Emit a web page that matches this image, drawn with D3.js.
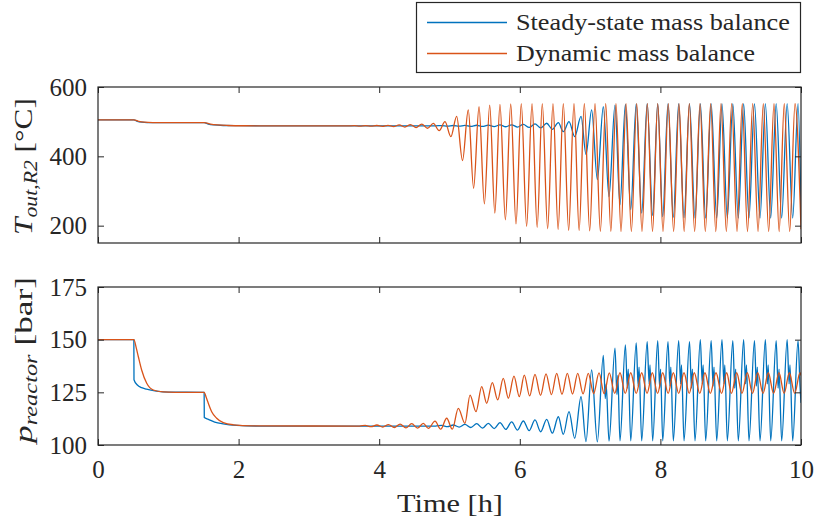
<!DOCTYPE html>
<html>
<head>
<meta charset="utf-8">
<script src="https://cdn.jsdelivr.net/npm/d3@7"></script>
<style>
  body { margin: 0; background: #fff; }
</style>
</head>
<body>
<script>
// values: [time in h, value]
var seriesNames = ["Steady-state mass balance", "Dynamic mass balance"];
var seriesColors = ["#0072BD", "#D95319"];
var xTicks = [0, 2, 4, 6, 8, 10];
var tempTicks = [200, 400, 600];
var pressTicks = [100, 125, 150, 175];

var blueTemp = [
  [0,505],[0.51,505],[0.56,501],[0.62,498.5],[0.7,497.3],[0.85,497],[1.51,497],[1.57,493],[1.65,490.5],
  [1.78,489],[2.0,488.5],[2.5,488],[4.8,488],
  [4.888,488.8],[4.971,487.2],[5.054,489],[5.137,487],[5.220,489.3],[5.303,486.5],[5.386,489.6],[5.469,486.2],
  [5.552,490],[5.635,485.8],[5.718,490.5],[5.801,485.3],[5.884,491],[5.967,484.5],[6.050,492],[6.133,483.5],
  [6.216,493.5],[6.297,482],[6.382,495.5],[6.463,478],[6.548,497],[6.619,471],[6.700,500],[6.781,457],
  [6.871,515],[6.942,405],[7.022,534],[7.103,333],[7.188,543],[7.269,284],[7.354,548],[7.425,260],
  [7.502,550],[7.578,246],[7.656,551],[7.734,236],[7.812,552],[7.890,229],[7.962,552],[8.033,226],
  [8.108,552],[8.184,224],[8.260,552],[8.336,223],[8.414,552],[8.492,222],[8.568,552],[8.644,222],
  [8.722,552],[8.801,222],[8.876,552],[8.952,222],[9.030,552],[9.108,222],[9.184,552],[9.260,222],
  [9.338,552],[9.417,222],[9.493,552],[9.569,222],[9.647,552],[9.725,222],[9.803,552],[9.882,222],
  [9.958,552],[10,240]
];

var orangeTemp = [
  [0,505],[0.51,505],[0.58,501],[0.66,498.5],[0.78,497.2],[1.0,497],[1.51,497],[1.6,493],[1.7,490.5],
  [1.85,489],[2.1,488.2],[2.6,487.8],[3.55,487.8],
  [3.645,488.3],[3.725,487.3],[3.805,488.6],[3.885,487.0],[3.965,489],[4.045,486.5],[4.125,489.5],[4.205,485.8],
  [4.285,490.5],[4.365,484.5],[4.445,491.5],[4.525,483],[4.605,493],[4.687,481],[4.770,495],[4.853,474],
  [4.936,500],[5.019,457],[5.102,515],[5.185,388],[5.267,534],[5.343,308],[5.420,543],[5.496,263],
  [5.572,548],[5.645,236],[5.718,550],[5.795,217],[5.871,551],[5.946,205],[6.021,552],[6.097,198],
  [6.174,552],[6.247,195],[6.320,552],[6.396,191],[6.472,552],[6.545,189],[6.619,552],[6.695,187],
  [6.771,552],[6.844,186],[6.918,552],[6.994,185],[7.070,552],[7.146,184],[7.222,552],[7.295,184],
  [7.368,552],[7.440,183],[7.511,552],[7.587,183],[7.663,552],[7.738,183],[7.814,552],[7.888,183],
  [7.962,552],[8.037,183],[8.112,552],[8.188,183],[8.265,552],[8.338,183],[8.411,552],[8.487,183],
  [8.563,552],[8.639,183],[8.715,552],[8.788,183],[8.862,552],[8.938,183],[9.014,552],[9.090,183],
  [9.165,552],[9.239,183],[9.313,552],[9.389,183],[9.464,552],[9.540,183],[9.616,552],[9.689,183],
  [9.762,552],[9.839,183],[9.915,552],[10,190]
];

var bluePress = [
  [0,150],[0.51,150],[0.512,131],[0.56,128.5],[0.62,127.2],[0.69,126.5],[0.83,125.6],[1.0,125.1],[1.51,125],
  [1.512,113],[1.57,112.2],[1.66,110.9],[1.78,110],[1.97,109.3],[2.3,109],[4.8,109],
  [4.888,109.3],[4.971,108.7],[5.054,109.5],[5.137,108.5],[5.220,109.8],[5.303,108.3],[5.386,110.1],[5.469,108.0],
  [5.552,110.3],[5.635,107.8],[5.718,110.6],[5.801,107.4],[5.884,111.0],[5.967,107.1],[6.050,111.4],[6.133,106.8],
  [6.216,111.9],[6.297,106.3],[6.382,112.2],[6.463,105.6],[6.548,113.4],[6.619,105.1],[6.700,115.8],[6.781,103.2],
  [6.871,122.9],[6.942,101.6],[7.022,135.6],[7.103,101.5],
  [7.188,142.5],[7.216,122],[7.228,129],[7.269,101.8],
  [7.354,146],[7.382,124],[7.394,133],[7.425,102],
  [7.502,147.5],[7.530,127],[7.542,136],[7.578,102],
  [7.656,148.5],[7.684,128],[7.696,137],[7.734,102],
  [7.812,149],[7.840,129],[7.852,138],[7.890,102],
  [7.962,149.5],[7.990,127],[8.002,136],[8.033,102],
  [8.108,149],[8.136,128],[8.148,137],[8.184,102],
  [8.260,149.5],[8.288,129],[8.300,138],[8.336,102],
  [8.414,149],[8.442,127],[8.454,136],[8.492,102],
  [8.568,150],[8.596,129],[8.608,138],[8.644,102],
  [8.722,149.5],[8.750,128],[8.762,137],[8.801,102],
  [8.876,150],[8.904,129],[8.916,138],[8.952,102],
  [9.030,149.5],[9.058,127],[9.070,136],[9.108,102],
  [9.184,150],[9.212,129],[9.224,138],[9.260,102],
  [9.338,149.5],[9.366,128],[9.378,137],[9.417,102],
  [9.493,150],[9.521,129],[9.533,138],[9.569,102],
  [9.647,149.5],[9.675,127],[9.687,136],[9.725,102],
  [9.803,150],[9.831,129],[9.843,138],[9.882,102],
  [9.958,149.5],[9.986,128],[10,120]
];

var orangePress = [
  [0,150],[0.51,150],[0.545,146],[0.574,141.9],[0.621,135.6],[0.693,129.3],[0.787,126.1],[0.929,125.2],[1.1,125],
  [1.51,125],[1.54,122.5],[1.569,119.8],[1.617,115.8],[1.688,112.7],[1.782,110.6],[1.925,109.6],[2.2,109.1],[3.72,109],
  [3.802,109.3],[3.885,108.7],[3.967,109.5],[4.050,108.5],[4.132,109.7],[4.215,108.3],[4.297,109.9],[4.380,108.1],
  [4.462,110.1],[4.545,108],[4.627,110.3],[4.70,107.9],[4.794,111.3],[4.875,107.5],[4.960,112.7],[5.04,107.5],
  [5.125,117.4],[5.22,110.3],[5.292,123.7],[5.377,115.8],[5.458,127.7],[5.529,119.8],[5.609,129.6],[5.686,121.4],
  [5.765,131.6],[5.837,122.2],[5.917,132.7],[5.993,123],[6.064,133.2],[6.14,123.3],[6.216,133.5],[6.295,123.6],
  [6.373,133.8],[6.45,123.9],[6.525,134],[6.60,124.1],[6.676,134],[6.75,124.2],[6.824,134],[6.90,124.3],
  [6.974,134],[7.05,124.4],[7.127,134.2],[7.20,124.4],[7.273,134.2],[7.35,124.5],[7.425,134.3],[7.50,124.5],
  [7.578,134.3],[7.656,124.5],[7.734,134.3],[7.81,124.5],[7.885,134.3],[7.96,124.5],[8.033,134.3],[8.11,124.5],
  [8.184,134.3],[8.26,124.5],[8.336,134.3],[8.41,124.5],[8.482,134.3],[8.56,124.5],[8.634,134.3],[8.71,124.5],
  [8.791,134.3],[8.87,124.5],[8.943,134.3],[9.01,124.5],[9.085,134.3],[9.16,124.5],[9.236,134.3],[9.31,124.5],
  [9.384,134.3],[9.46,124.5],[9.535,134.3],[9.61,124.5],[9.687,134.3],[9.76,124.5],[9.834,134.3],[9.91,124.5],
  [9.986,134.3],[10,133]
];

var svgWidth = 816, svgHeight = 524;
var left = 98, right = 801;
var font = "Liberation Serif";
var ink = "#262626";

var svg = d3.select("body").append("svg")
    .attr("width", svgWidth)
    .attr("height", svgHeight);

var x = d3.scaleLinear().domain([0, 10]).range([left, right]);

// Times is narrower than the LaTeX font of the reference: widen glyphs to a target width
function fitText(sel, cx, cy, rot, target, anchor) {
    var w = sel.node().getComputedTextLength();
    var k = target / w;
    sel.attr("text-anchor", anchor)
        .attr("transform", "translate(" + cx + "," + cy + ")" + (rot ? " rotate(" + rot + ")" : "") + " scale(" + k + ",1)");
}

function panel(top, bottom, yscale, ticks, showX, dataSets, id) {
    var tick = 6;
    svg.append("clipPath").attr("id", id)
        .append("rect").attr("x", left).attr("y", top)
        .attr("width", right - left).attr("height", bottom - top);

    var line = d3.line()
        .x(function(d) { return x(d[0]); })
        .y(function(d) { return yscale(d[1]); })
        .curve(d3.curveMonotoneX);

    var g = svg.append("g").attr("clip-path", "url(#" + id + ")");
    dataSets.forEach(function(data, i) {
        g.append("path").datum(data)
            .attr("fill", "none")
            .attr("stroke", seriesColors[i])
            .attr("stroke-width", 1.3)
            .attr("stroke-linejoin", "round")
            .attr("d", line);
    });

    // axes, ticks pointing inwards (box on)
    var ax = svg.append("g").attr("transform", "translate(0," + bottom + ")")
        .call(d3.axisBottom(x).tickValues(xTicks).tickSize(-tick).tickSizeOuter(0).tickPadding(15)
            .tickFormat(showX ? d3.format("d") : ""));
    var at = svg.append("g").attr("transform", "translate(0," + top + ")")
        .call(d3.axisTop(x).tickValues(xTicks).tickSize(-tick).tickSizeOuter(0).tickFormat(""));
    var al = svg.append("g").attr("transform", "translate(" + left + ",0)")
        .call(d3.axisLeft(yscale).tickValues(ticks).tickSize(-tick).tickSizeOuter(0).tickPadding(11));
    var ar = svg.append("g").attr("transform", "translate(" + right + ",0)")
        .call(d3.axisRight(yscale).tickValues(ticks).tickSize(-tick).tickSizeOuter(0).tickFormat(""));

    [ax, at, al, ar].forEach(function(a) {
        a.attr("font-family", font).attr("font-size", 25);
        a.select(".domain").remove();
        a.selectAll("line").attr("stroke", ink).attr("stroke-width", 1);
        a.selectAll("text").attr("fill", ink);
    });

    svg.append("rect")
        .attr("x", left).attr("y", top)
        .attr("width", right - left).attr("height", bottom - top)
        .attr("fill", "none").attr("stroke", ink).attr("stroke-width", 1.2);
}

var yT = d3.scaleLinear().domain([150, 600]).range([243, 87]);
var yP = d3.scaleLinear().domain([100, 175]).range([445, 287]);

panel(87, 243, yT, tempTicks, false, [blueTemp, orangeTemp], "clipT");
panel(287, 445, yP, pressTicks, true, [bluePress, orangePress], "clipP");

// y labels
var lt = svg.append("text")
    .attr("font-family", font).attr("font-size", 26).attr("fill", ink);
lt.append("tspan").attr("font-style", "italic").text("T");
lt.append("tspan").attr("font-style", "italic").attr("font-size", 18).attr("dy", 5).text("out,R2");
lt.append("tspan").attr("dy", -5).text(" [°C]");
fitText(lt, 32, 166.5, -90, 137, "middle");

var lp = svg.append("text")
    .attr("font-family", font).attr("font-size", 26).attr("fill", ink);
lp.append("tspan").attr("font-style", "italic").text("p");
lp.append("tspan").attr("font-style", "italic").attr("font-size", 18).attr("dy", 5).text("reactor");
lp.append("tspan").attr("dy", -5).text(" [bar]");
fitText(lp, 32, 360, -90, 166, "middle");

// x label
var lx = svg.append("text")
    .attr("font-family", font).attr("font-size", 26).attr("fill", ink)
    .text("Time [h]");
fitText(lx, 450, 512, 0, 106, "middle");

// legend
var legendWidths = [274, 239];
var leg = svg.append("g");
leg.append("rect")
    .attr("x", 416.5).attr("y", 2.5).attr("width", 384).attr("height", 70)
    .attr("fill", "#fff").attr("stroke", ink).attr("stroke-width", 1.2);
seriesNames.forEach(function(name, i) {
    var yy = 22.5 + i * 31;
    leg.append("line")
        .attr("x1", 427).attr("x2", 507).attr("y1", yy).attr("y2", yy)
        .attr("stroke", seriesColors[i]).attr("stroke-width", 1.3);
    var t = leg.append("text")
        .attr("font-family", font).attr("font-size", 23.5).attr("fill", ink)
        .text(name);
    fitText(t, 516, 30 + i * 30.5, 0, legendWidths[i], "start");
});
</script>
</body>
</html>
